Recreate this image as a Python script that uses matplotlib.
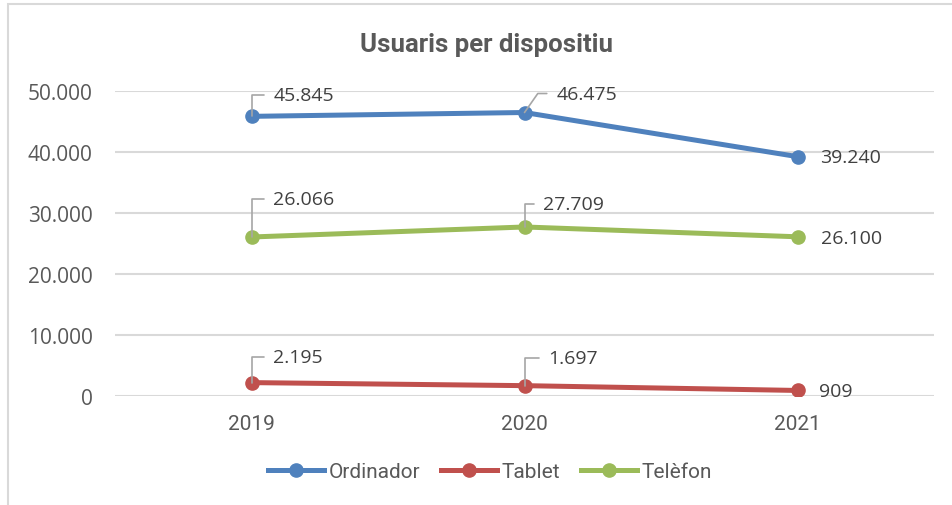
import matplotlib
matplotlib.use("Agg")
import matplotlib.pyplot as plt
from matplotlib.patches import Rectangle
from matplotlib.lines import Line2D

# Data
years = ["2019", "2020", "2021"]
ordinador = [45845, 46475, 39240]
tablet = [2195, 1697, 909]
telefon = [26066, 27709, 26100]
series_names = ["Ordinador", "Tablet", "Telèfon"]
y_ticks = [0, 10000, 20000, 30000, 40000, 50000]

colors = ["#4F81BD", "#C0504D", "#9BBB59"]
narrow = ["Roboto", "DejaVu Sans"]
label_font = ["Open Sans", "DejaVu Sans"]


def fmt(v):
    return f"{int(v):,}".replace(",", ".")


fig = plt.figure(figsize=(9.52, 5.06), dpi=100)
ax = fig.add_axes([115 / 952, 1 - 397 / 506, (934 - 115) / 952, (397 - 92) / 506])

# light frame of the chart area
fig.patches.append(Rectangle((8 / 952, -0.1), 1.2, 1 - 5 / 506 + 0.1,
                             transform=fig.transFigure, fill=False,
                             edgecolor="#D9D9D9", lw=1.5))

x = list(range(len(years)))
all_series = [ordinador, tablet, telefon]
for vals, c, name in zip(all_series, colors, series_names):
    ax.plot(x, vals, color=c, lw=3.6, marker="o", markersize=9.5,
            solid_capstyle="round", label=name, zorder=3)

ax.set_xlim(-0.5, 2.5)
ax.set_ylim(0, 50000)
ax.set_yticks(y_ticks)
ax.set_yticklabels([fmt(v) for v in y_ticks], fontsize=15, color="#595959",
                   family=label_font)
ax.set_xticks(x)
ax.set_xticklabels(years, fontsize=15, color="#595959", family=narrow)
ax.tick_params(axis="y", length=0, pad=16)
ax.tick_params(axis="x", length=0, pad=13)
ax.grid(axis="y", color="#D9D9D9", lw=1.5)
ax.set_axisbelow(True)
for s in ax.spines.values():
    s.set_visible(False)

# data labels: (dx, dy) in pixels, leader angle (None = no leader)
offsets = {
    "Ordinador": [(22, 21, 90), (32, 19, 55), (23, 0, None)],
    "Tablet": [(22, 26, 90), (24, 28, 90), (22, -1, None)],
    "Telèfon": [(22, 38, 90), (19, 23, 90), (23, -1, None)],
}
for vals, name in zip(all_series, series_names):
    for i, v in enumerate(vals):
        dx, dy, ang = offsets[name][i]
        props = None
        if ang is not None:
            props = dict(arrowstyle="-", color="#A6A6A6", lw=1.2,
                         relpos=(0, 0.5), shrinkA=5, shrinkB=0,
                         connectionstyle=f"angle,angleA=180,angleB={ang},rad=0")
        ax.annotate(fmt(v), xy=(i, v), xytext=(dx, dy),
                    textcoords="offset pixels", ha="left", va="center",
                    fontsize=14, color="#404040", family=label_font,
                    arrowprops=props, annotation_clip=False, zorder=4)

fig.text(487 / 952, 1 - 45 / 506, "Usuaris per dispositiu", ha="center",
         va="center", fontsize=18.5, fontweight="bold", color="#595959",
         family=narrow)

handles = [Line2D([0], [0], color=c, lw=3.6, marker="o", markersize=9.5)
           for c in colors]
leg = fig.legend(handles, series_names, loc="center",
                 bbox_to_anchor=(490 / 952, 1 - 473 / 506), ncol=3,
                 frameon=False, handlelength=2.7, handletextpad=0.2,
                 columnspacing=1.0, prop={"family": narrow, "size": 15})
for t in leg.get_texts():
    t.set_color("#595959")

fig.savefig("out.png", dpi=100)
